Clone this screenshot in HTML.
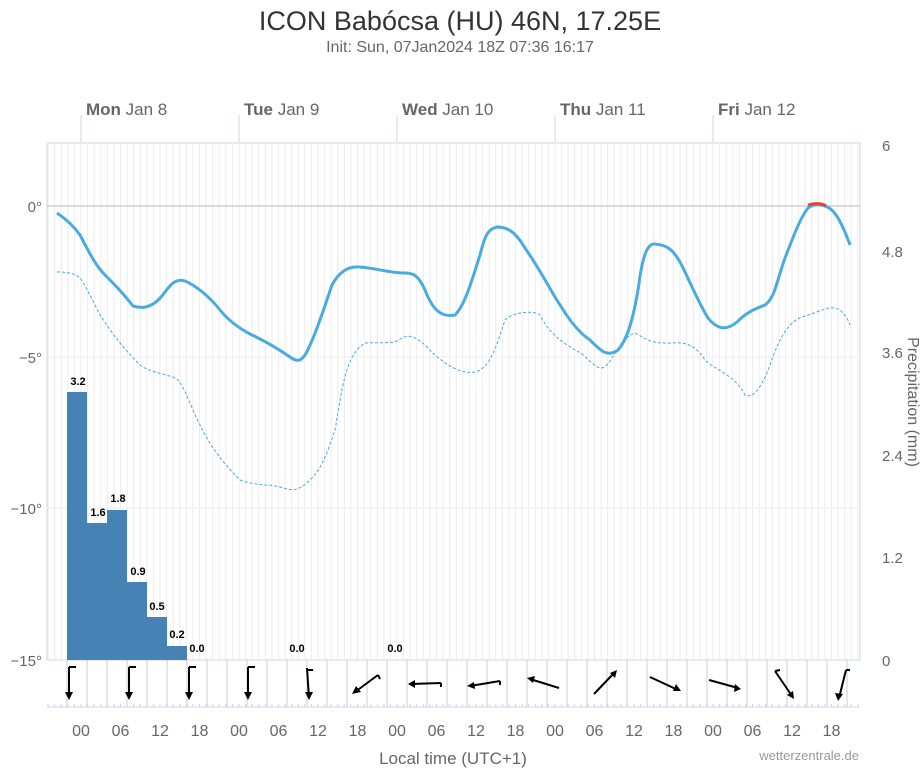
<!DOCTYPE html><html><head><meta charset="utf-8"><style>body{margin:0;background:#fff}svg{display:block;font-family:"Liberation Sans","DejaVu Sans",sans-serif}</style></head><body>
<svg width="921" height="768" viewBox="0 0 921 768">
<text x="460" y="30" text-anchor="middle" font-size="27" fill="#333">ICON Babócsa (HU) 46N, 17.25E</text>
<text x="460" y="52" text-anchor="middle" font-size="16" fill="#666">Init: Sun, 07Jan2024 18Z 07:36 16:17</text>
<g id="grid" stroke="#ececec" stroke-width="1"></g>
<rect x="47" y="143" width="813" height="517" fill="none" stroke="#ccd6eb"/>
<line x1="47" y1="206" x2="860" y2="206" stroke="#bbb"/>
<line x1="47" y1="357" x2="860" y2="357" stroke="#eee"/>
<line x1="47" y1="508" x2="860" y2="508" stroke="#eee"/>
<g stroke="#ccd6eb"><line x1="81" y1="115" x2="81" y2="143"/><line x1="239" y1="115" x2="239" y2="143"/><line x1="397" y1="115" x2="397" y2="143"/><line x1="555" y1="115" x2="555" y2="143"/><line x1="713" y1="115" x2="713" y2="143"/></g>
<g font-size="17" fill="#666"><text x="86" y="115"><tspan font-weight="bold">Mon</tspan> Jan 8</text><text x="244" y="115"><tspan font-weight="bold">Tue</tspan> Jan 9</text><text x="402" y="115"><tspan font-weight="bold">Wed</tspan> Jan 10</text><text x="560" y="115"><tspan font-weight="bold">Thu</tspan> Jan 11</text><text x="718" y="115"><tspan font-weight="bold">Fri</tspan> Jan 12</text></g>
<g font-size="15" fill="#666" text-anchor="end"><text x="42" y="212">0°</text><text x="42" y="363">−5°</text><text x="42" y="514">−10°</text><text x="42" y="666">−15°</text></g>
<g font-size="15" fill="#666"><text x="882" y="151">6</text><text x="882" y="257">4.8</text><text x="882" y="358">3.6</text><text x="882" y="461">2.4</text><text x="882" y="563">1.2</text><text x="882" y="666">0</text></g>
<text x="0" y="0" font-size="16" fill="#666" transform="translate(908,402) rotate(90)" text-anchor="middle">Precipitation (mm)</text>
<g fill="#4682b4"><rect x="67" y="392" width="20" height="268"/><rect x="87" y="523" width="20" height="137"/><rect x="107" y="510" width="20" height="150"/><rect x="127" y="582" width="20" height="78"/><rect x="147" y="617" width="20" height="43"/><rect x="167" y="646" width="20" height="14"/></g>
<g font-size="11" font-weight="bold" fill="#000" text-anchor="middle"><text x="78" y="385">3.2</text><text x="98" y="516">1.6</text><text x="118" y="502">1.8</text><text x="138" y="575">0.9</text><text x="157" y="610">0.5</text><text x="177" y="638">0.2</text><text x="197" y="652">0.0</text><text x="297" y="652">0.0</text><text x="395" y="652">0.0</text></g>
<path fill="none" stroke="#4aa8de" stroke-width="1" stroke-dasharray="3,2" d="M57,272 C66,272 75,273 80,278 C85,285 90,295 100,315 C110,330 120,345 140,365 C150,373 170,374 178,380 C186,390 192,410 200,425 C210,445 220,460 240,480 C255,486 270,484 280,487 C290,490 297,493 310,480 C320,470 325,460 335,430 C342,390 345,355 365,343 C380,342 390,344 397,341 C405,336 410,332 425,345 C440,362 460,375 475,372 C490,368 495,350 505,320 C512,312 535,310 540,315 C548,330 555,338 575,350 C588,355 595,372 605,367 C615,357 620,338 635,333 C645,338 650,344 670,343 C685,342 695,344 705,360 C715,370 735,375 745,395 C752,398 760,392 770,365 C780,335 790,320 805,316 C820,312 830,304 840,310 C846,315 849,322 850,325"/>
<path fill="none" stroke="#4aabe0" stroke-width="3" d="M57,213 C66,219 73,225 80,235 C88,250 95,265 105,275 C115,285 122,292 133,306 C140,308 150,310 162,296 C170,285 175,278 185,281 C195,285 210,297 220,310 C228,320 237,327 250,334 C265,341 280,350 290,357 C298,363 303,362 310,345 C318,328 325,305 332,285 C340,270 350,266 360,267 C375,268 390,273 405,273 C412,273 418,274 425,290 C432,308 440,318 455,315 C465,305 472,280 480,255 C485,235 488,229 497,227 C507,227 515,231 525,248 C535,262 545,280 555,297 C565,313 575,330 590,340 C600,350 607,358 618,350 C627,340 633,320 638,290 C642,260 646,243 655,244 C668,245 675,250 685,272 C692,287 700,305 708,318 C716,328 725,332 737,322 C747,312 755,309 765,305 C775,298 777,280 785,258 C792,240 800,218 808,208 C815,203 828,203 836,215 C843,225 847,237 850,245"/>
<path fill="none" stroke="#e0453a" stroke-width="3" d="M808,205 C814,203 822,203 826,206"/>
<g id="wb" stroke="#ccc"></g>
<line x1="47" y1="707" x2="860" y2="707" stroke="#ccd6eb"/>
<g id="tk" stroke="#ccd6eb"></g>
<g stroke="#000" stroke-width="2" fill="none" id="arr">
<path d="M69,667 L69,698 M69,667 L76,667"/><path d="M129,667 L129,698 M129,667 L136,667"/><path d="M189,667 L189,698 M189,667 L196,667"/><path d="M248,667 L248,698 M248,667 L255,667"/><path d="M307,668 L309,698 M307,670 L313,670"/><path d="M378,675 L355,692 M378,675 L380,679"/><path d="M441,683 L411,684 M441,683 L441,687"/><path d="M500,681 L470,686 M500,681 L500,685"/><path d="M559,688 L530,679"/><path d="M594,694 L615,672"/><path d="M650,677 L678,690"/><path d="M709,680 L738,688"/><path d="M775,671 L792,696 M775,671 L780,670"/><path d="M846,670 L839,698 M846,670 L850,670"/>
</g>
<g fill="#000"><path d="M69,700 L65,692 L73,692Z"/><path d="M129,700 L125,692 L133,692Z"/><path d="M189,700 L185,692 L193,692Z"/><path d="M248,700 L244,692 L252,692Z"/><path d="M309,700 L305,692 L313,692Z"/><path d="M352,694 L356,686 L361,692Z"/><path d="M408,684 L415,680 L415,688Z"/><path d="M467,686 L474,682 L475,689Z"/><path d="M527,678 L535,676 L533,683Z"/><path d="M617,670 L615,678 L610,673Z"/><path d="M681,691 L673,691 L676,684Z"/><path d="M741,689 L734,692 L735,684Z"/><path d="M794,699 L787,695 L793,691Z"/><path d="M838,701 L835,693 L843,694Z"/></g>
<g font-size="16" fill="#666" text-anchor="middle" id="xl"></g>
<text x="453" y="764" font-size="17" fill="#666" text-anchor="middle">Local time (UTC+1)</text>
<text x="859" y="760" font-size="13" fill="#999" text-anchor="end">wetterzentrale.de</text>
</svg>
<script>
var ns="http://www.w3.org/2000/svg";function el(p,t,a,tx){var e=document.createElementNS(ns,t);for(var k in a)e.setAttribute(k,a[k]);if(tx)e.textContent=tx;document.getElementById(p).appendChild(e);}
var pph=158/24;
for(var h=-5;h<=118;h++){var x=81+h*pph;if(x>47&&x<860){el("grid","line",{x1:x,y1:144,x2:x,y2:660});el("tk","line",{x1:x,y1:704,x2:x,y2:707});}}
for(var x=67;x<860;x+=20)el("wb","line",{x1:x,y1:660,x2:x,y2:707});
var L=["00","06","12","18"];for(var i=0;i<20;i++)el("xl","text",{x:81+i*39.5,y:736},L[i%4]);
</script>
</body></html>
